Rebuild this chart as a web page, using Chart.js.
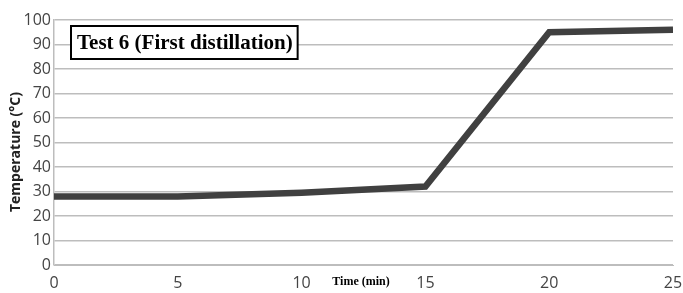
<!DOCTYPE html>
<html>
<head>
<meta charset="utf-8">
<script src="https://cdn.jsdelivr.net/npm/chart.js@4"></script>
<style>
  html, body { margin: 0; padding: 0; background: #fff; }
  #wrap { width: 683px; height: 293px; }
</style>
</head>
<body>
<div id="wrap"><canvas id="temp-chart"></canvas></div>
<script>
// time in minutes and measured temperature
const times = [0, 5, 10, 15, 20, 25];
const temps = [28, 28, 29.5, 32, 95, 96];
const chartTitle = 'Test 6 (First distillation)';
const xTitle = 'Time (min)';
const yTitle = 'Temperature (°C)';

// boxed title, y title and the x title that sits in the tick row
const labelsPlugin = {
    id: 'labels',
    afterDraw: (chart) => {
        const ctx = chart.ctx;
        const x = chart.scales.x;
        ctx.save();
        ctx.font = 'bold 21px "Liberation Serif"';
        let w = ctx.measureText(chartTitle).width;
        let bx = 71, by = 26, bw = w + 11, bh = 33;
        ctx.fillStyle = '#fff';
        ctx.fillRect(bx, by, bw, bh);
        ctx.lineWidth = 2;
        ctx.strokeStyle = '#000';
        ctx.strokeRect(bx, by, bw, bh);
        ctx.fillStyle = '#000';
        ctx.textBaseline = 'middle';
        ctx.fillText(chartTitle, bx + 6, by + bh / 2 + 1);

        ctx.font = 'bold 12px "Liberation Serif"';
        ctx.textAlign = 'center';
        ctx.fillText(xTitle, x.getPixelForValue(12.4), 282);

        ctx.translate(16, 152);
        ctx.rotate(-Math.PI / 2);
        ctx.fillStyle = '#222';
        ctx.font = 'bold 14px "Open Sans"';
        ctx.fillText(yTitle, 0, 0);
        ctx.restore();
    }
};

let chart = new Chart(document.getElementById('temp-chart'), {
    type: 'line',
    data: {
        datasets: [{
            data: times.map((t, i) => ({ x: t, y: temps[i] })),
            borderColor: '#404040',
            borderWidth: 6.5,
            pointRadius: 0,
            tension: 0,
            borderJoinStyle: 'miter'
        }]
    },
    options: {
        responsive: true,
        maintainAspectRatio: false,
        animation: false,
        layout: { padding: { top: 20, right: 10, left: 0, bottom: 0 } },
        plugins: {
            legend: { display: false },
            tooltip: { enabled: false }
        },
        scales: {
            x: {
                type: 'linear',
                min: 0,
                max: 25,
                ticks: {
                    stepSize: 5,
                    color: '#444',
                    font: { family: '"Open Sans"', size: 16 },
                    padding: 9
                },
                grid: { display: false, drawTicks: false },
                border: { color: '#bdbdbd', width: 1 },
                afterFit: (s) => {
                    s.height = 28;
                    s.paddingRight = 0;
                    s.paddingLeft = 0;
                }
            },
            y: {
                min: 0,
                max: 100,
                ticks: {
                    stepSize: 10,
                    color: '#444',
                    font: { family: '"Open Sans"', size: 16 },
                    padding: 3
                },
                grid: { color: '#bdbdbd', lineWidth: 1.5, drawTicks: false },
                border: { color: '#bdbdbd', width: 1.5 },
                afterFit: (s) => { s.width = 54; }
            }
        }
    },
    plugins: [labelsPlugin]
});
</script>
</body>
</html>
